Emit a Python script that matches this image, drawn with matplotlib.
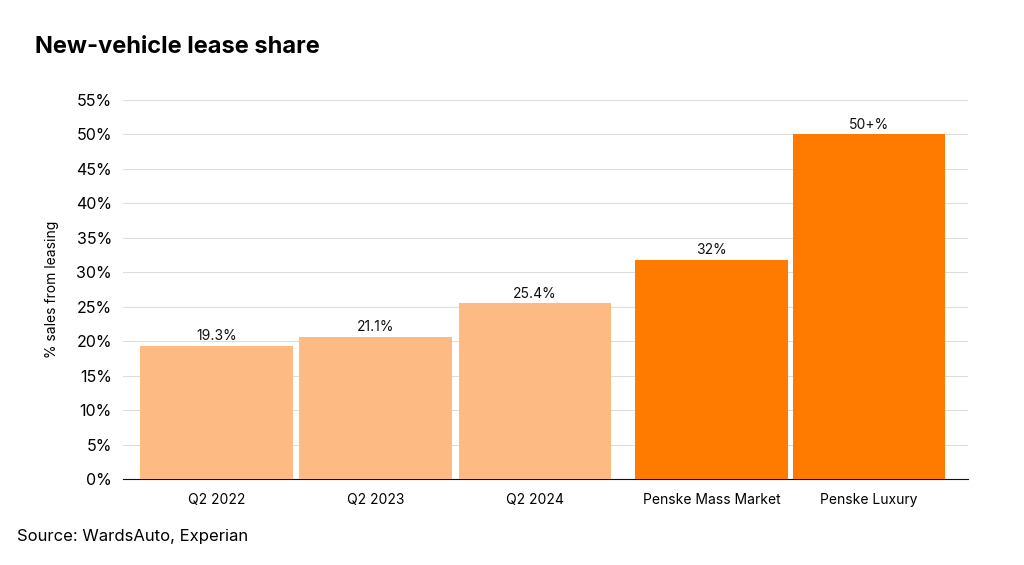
import matplotlib
matplotlib.use("Agg")
import matplotlib.pyplot as plt
from matplotlib.ticker import FuncFormatter

categories = ["Q2 2022", "Q2 2023", "Q2 2024", "Penske Mass Market", "Penske Luxury"]
values = [19.3, 20.6, 25.5, 31.8, 50.0]
labels = ["19.3%", "21.1%", "25.4%", "32%", "50+%"]
colors = ["#FDBA83", "#FDBA83", "#FDBA83", "#FF7B00", "#FF7B00"]
positions = [0, 1, 2, 3.11, 4.1]

plt.rcParams['font.family'] = ['Inter', 'DejaVu Sans']
fig = plt.figure(figsize=(10.24, 5.65), dpi=100)
ax = fig.add_axes([0.12, 0.152, 0.825, 0.671])
ax.bar(positions, values, width=0.96, color=colors, zorder=3)
for p, v, l in zip(positions, values, labels):
    ax.text(p, v + 0.4, l, ha='center', va='bottom', fontsize=10, color='#111')
ax.set_ylim(0, 55)
ax.set_xlim(-0.59, 4.72)
ax.set_yticks(range(0, 56, 5))
ax.yaxis.set_major_formatter(FuncFormatter(lambda v, _: f"{int(v)}%"))
ax.set_xticks(positions)
ax.set_xticklabels(categories, fontsize=10)
ax.tick_params(axis='y', labelsize=11.5, length=0, pad=8)
ax.tick_params(axis='x', length=0, pad=10)
ax.grid(axis='y', color='#dddddd', lw=0.8, zorder=0)
for s in ['top', 'right', 'left']:
    ax.spines[s].set_visible(False)
ax.spines['bottom'].set_color('#111')
ax.set_ylabel("% sales from leasing", fontsize=10, labelpad=12)
fig.text(0.034, 0.917, "New-vehicle lease share", fontsize=17, fontweight='bold', va='center')
fig.text(0.017, 0.051, "Source: WardsAuto, Experian", fontsize=12, va='center')
fig.savefig("out.png", dpi=100)
